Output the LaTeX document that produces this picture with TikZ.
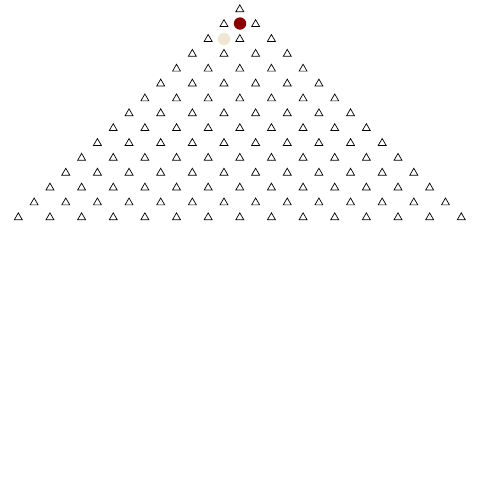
\documentclass[tikz,border=0pt]{standalone}
\usepackage{xcolor}
\usepackage{tikz}
\usetikzlibrary{shapes.geometric}
\definecolor{BallRed}{HTML}{8B0000}
\definecolor{TrailBeige}{HTML}{EEE8D2}
\tikzset{
  peg/.style={draw=black,regular polygon,regular polygon sides=3,
    minimum size=0.23cm,inner sep=0pt,line width=0.5pt},
  ball/.style={circle,fill=BallRed,minimum size=0.31cm,inner sep=0pt},
  trail/.style={circle,fill=TrailBeige,minimum size=0.31cm,inner sep=0pt},
}

\begin{document}
\begin{tikzpicture}[x=0.025cm,y=-0.025cm]
  \useasboundingbox (0,0) rectangle (480,480);
  % pegs, row r has r+1 of them
  \foreach \r in {0,...,14}
    \foreach \k in {0,...,\r}
      \node[peg] (p-\r-\k) at ({239.8+(2*\k-\r)*15.82},{9.4+\r*14.86}) {};
  \node[trail] (prev) at (224,39) {};
  \node[ball] (cur) at (240,23.5) {};
\end{tikzpicture}
\end{document}
